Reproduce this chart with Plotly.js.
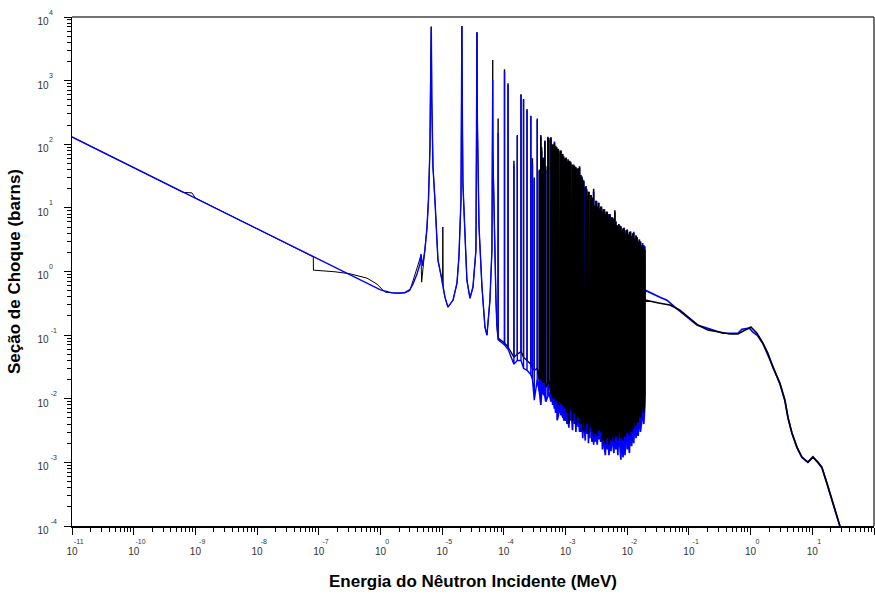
<!DOCTYPE html>
<html><head><meta charset="utf-8">
<script src="https://cdn.plot.ly/plotly-3.0.1.min.js"></script>
<style>html,body{margin:0;padding:0;background:#fff}#chart{width:875px;height:596px}</style>
</head><body><div id="chart"></div>
<script>
// ---- data (energies in eV, cross sections in barns) ----
const blueLowE = [1e-5, 1e-4, 1e-3, 1e-2, 0.0253, 0.1, 0.3, 1.0, 1.5, 2.0, 2.5, 3.0, 3.36, 3.91, 4.37, 4.53, 4.8, 5.26, 5.67, 6.0, 6.34, 6.5, 6.67, 6.8, 7.1, 7.64, 8.24, 8.55, 9.93, 11.1, 12.4, 15.0, 17.4, 18.7, 20.2, 20.6, 20.87, 21.2, 21.7, 23.4, 25.2, 28.2, 31.6, 35.3, 36.3, 36.68, 37.1, 39.6, 44.2, 49.4, 53.2, 59.5, 64.1, 65.5, 66.03, 66.6, 74.5, 77];
const blueLowXS = [130, 43, 14.3, 4.7, 3.0, 1.56, 0.92, 0.515, 0.466, 0.455, 0.47, 0.52, 0.634, 0.91, 1.31, 1.88, 1.22, 2.17, 4.8, 13.3, 87, 2100, 7030, 480, 44, 13.3, 4.0, 1.51, 0.73, 0.395, 0.275, 0.355, 0.658, 1.68, 13.3, 500, 7210, 400, 24.5, 4.0, 0.73, 0.38, 0.57, 2.17, 300, 5740, 300, 5.0, 0.57, 0.134, 0.1, 0.355, 2.17, 100, 1020, 60, 0.355, 0.15];

const blackLowE = [1e-5, 1e-4, 6.3e-4, 8.8e-4, 1e-3, 1e-2, 0.0253, 0.0815, 0.082, 0.183, 0.321, 0.604, 0.877, 1.18, 1.72, 2.49, 3.0, 4.53, 4.65, 5.26, 5.67, 6.0, 6.34, 6.5, 6.67, 6.8, 7.1, 7.64, 8.24, 8.55, 9.93, 10.15, 10.25, 10.4, 11.1, 12.4, 15.0, 17.4, 18.7, 20.2, 20.6, 20.87, 21.2, 21.7, 23.4, 25.2, 28.2, 31.6, 35.3, 36.3, 36.68, 37.1, 39.6, 44.2, 49.4, 53.2, 59.5, 64.1, 65.5, 66.03, 66.6, 74.5, 77];
const blackLowXS = [130, 43, 17.5, 17.2, 14.3, 4.7, 3.0, 1.70, 1.05, 0.99, 0.92, 0.787, 0.634, 0.474, 0.457, 0.46, 0.50, 1.78, 0.68, 2.17, 4.8, 13.3, 87, 2100, 7030, 480, 44, 13.3, 4.0, 1.51, 0.73, 0.6, 5.0, 0.55, 0.395, 0.275, 0.355, 0.658, 1.68, 13.3, 500, 7210, 400, 24.5, 4.0, 0.73, 0.38, 0.57, 2.17, 300, 5740, 300, 5.0, 0.57, 0.134, 0.1, 0.355, 2.17, 200, 2110, 80, 0.355, 0.15];

// resonance region: resonance energies (eV), peak and valley cross sections (barns)
const resE = [80.75, 102.5, 116.9, 145.7, 165.3, 189.7, 208.5, 237.4, 273.7, 291.0, 311.4, 347.8, 376.9, 397.6, 410.2, 434.0, 463.1, 478.4, 518.4, 535.4, 580.2, 594.8, 619.9, 628.6, 661.2, 665.3, 693.1, 708.4, 721.6, 730.2, 765.1, 782.1, 821.6, 851.0, 856.1, 866.6, 905.1, 925.2, 937.1, 958.0, 991.6,
  1023, 1054, 1098, 1131, 1168, 1211, 1245, 1298, 1355, 1405, 1443, 1473, 1522, 1598, 1638, 1688,
  1720, 1782, 1845, 1902, 1972, 2024, 2090, 2147, 2201, 2282, 2355, 2412, 2490, 2554, 2601, 2671, 2758, 2855, 2906, 3013, 3107, 3180, 3265, 3390, 3480, 3595,
  3710, 3830, 3960, 4120, 4260, 4420, 4570, 4730, 4890, 5060, 5270, 5450, 5640, 5850, 6080, 6300,
  6530, 6790, 7050, 7320, 7610, 7890, 8200, 8540, 8880, 9220, 9600, 10010, 10420, 10850, 11300, 11790, 12260, 12760, 13300, 13880, 14440, 15030, 15700, 16380, 17050, 17780, 18560, 19330];
const blackPeak = [255, 1505, 908, 55, 140, 610, 514, 357, 280, 60, 30, 255, 40, 131, 90, 60, 110, 45, 131, 125, 124, 70, 100, 50, 105, 40, 95, 60, 90, 45, 85, 55, 80, 76, 40, 65, 70, 45, 65, 40, 60,
  62, 50, 58, 52, 55, 51, 44, 48, 46, 46, 38, 44, 40, 42, 36, 45,
  36, 33, 30, 28, 26, 24, 20, 22, 19, 16, 18, 17, 14, 16, 15, 13, 14.5, 20, 13.5, 11, 13, 12.5, 10.5, 12, 11.5, 9.5,
  10.5, 10, 8.5, 9.5, 9.2, 8, 8.7, 8.5, 7.5, 8, 7.6, 6.8, 7.2, 6.8, 6.5, 9.2,
  6, 5.4, 5.2, 5.6, 5.3, 5.0, 4.4, 4.8, 4.7, 4.0, 4.5, 4.4, 3.8, 4.2, 4.1, 3.6, 4.0, 4.0, 3.3, 3.6, 3.4, 3.0, 3.1, 2.9, 2.5, 2.6, 2.4, 2.2];
const blackValley = [0.09, 0.075, 0.065, 0.045, 0.05, 0.055, 0.045, 0.04, 0.035, 0.03, 0.028, 0.03, 0.02, 0.025, 0.02, 0.018, 0.02, 0.015, 0.018, 0.02, 0.012, 0.016, 0.01, 0.014, 0.011, 0.013, 0.009, 0.012, 0.0095, 0.011, 0.008, 0.01, 0.009, 0.0085, 0.011, 0.009, 0.008, 0.01, 0.0075, 0.0095, 0.007,
  0.02, 0.006, 0.012, 0.004, 0.015, 0.007, 0.01, 0.0045, 0.018, 0.006, 0.009, 0.004, 0.013, 0.005, 0.008, 0.0042,
  0.012, 0.004, 0.009, 0.0032, 0.015, 0.005, 0.003, 0.01, 0.004, 0.012, 0.0028, 0.007, 0.0035, 0.011, 0.0045, 0.003, 0.009, 0.0025, 0.006, 0.0028, 0.01, 0.0035, 0.0026, 0.008, 0.0032, 0.006,
  0.003, 0.008, 0.0022, 0.006, 0.0025, 0.0019, 0.007, 0.0024, 0.0035, 0.0019, 0.006, 0.0022, 0.004, 0.0028, 0.0021, 0.007,
  0.0025, 0.005, 0.0022, 0.008, 0.003, 0.0024, 0.006, 0.0022, 0.004, 0.0025, 0.007, 0.0028, 0.0035, 0.0026, 0.006, 0.003, 0.005, 0.0034, 0.008, 0.0038, 0.006, 0.0042, 0.009, 0.005, 0.0066, 0.01, 0.006, 0.012];
const bluePeak = [150, 1400, 850, 48, 135, 600, 500, 340, 275, 50, 28, 240, 38, 140, 80, 62, 115, 40, 125, 118, 130, 62, 92, 55, 110, 36, 88, 66, 82, 50, 80, 58, 74, 80, 36, 68, 64, 48, 60, 44, 56,
  58, 52, 55, 54, 50, 53, 42, 46, 48, 43, 40, 41, 42, 39, 38, 43,
  38, 30, 31, 26, 27, 22, 21, 20, 20, 15, 17, 18, 13, 15, 16, 12, 13, 18, 14, 10, 12, 13, 10, 11, 12, 9,
  10, 10.5, 8, 9, 9.6, 7.5, 8, 8.8, 7, 7.6, 8, 6.3, 7, 7, 6, 8.5,
  6.2, 5, 5.3, 5.5, 4.9, 5.2, 4.1, 4.6, 4.9, 3.8, 4.3, 4.6, 3.6, 4.0, 4.3, 3.4, 3.8, 4.2, 3.1, 3.7, 3.5, 2.8, 3.2, 3.0, 2.6, 2.8, 2.6, 2.5];
const blueValley = [0.085, 0.07, 0.06, 0.035, 0.04, 0.04, 0.03, 0.028, 0.024, 0.02, 0.0095, 0.02, 0.013, 0.008, 0.013, 0.012, 0.011, 0.009, 0.011, 0.013, 0.009, 0.011, 0.008, 0.01, 0.007, 0.009, 0.006, 0.008, 0.0065, 0.0046, 0.0055, 0.007, 0.006, 0.0055, 0.007, 0.006, 0.005, 0.0065, 0.0045, 0.006, 0.0045,
  0.008, 0.004, 0.0065, 0.0035, 0.009, 0.0045, 0.006, 0.0032, 0.01, 0.004, 0.0055, 0.003, 0.0075, 0.0036, 0.005, 0.003,
  0.007, 0.003, 0.005, 0.0024, 0.008, 0.0035, 0.0022, 0.006, 0.0028, 0.007, 0.002, 0.0045, 0.0024, 0.0065, 0.003, 0.0021, 0.0055, 0.0019, 0.004, 0.0021, 0.006, 0.0024, 0.0019, 0.005, 0.0023, 0.004,
  0.0021, 0.005, 0.0016, 0.004, 0.0017, 0.0013, 0.0045, 0.0016, 0.0024, 0.0013, 0.004, 0.0015, 0.0028, 0.0019, 0.0014, 0.0045,
  0.0016, 0.0032, 0.0013, 0.005, 0.0018, 0.0011, 0.0038, 0.0012, 0.0025, 0.0013, 0.0045, 0.0016, 0.0022, 0.0014, 0.004, 0.0018, 0.0032, 0.002, 0.005, 0.0024, 0.004, 0.0026, 0.006, 0.003, 0.0042, 0.0065, 0.004, 0.008];

const blackHighE = [19400, 33900, 49200, 71400, 104000, 140000, 203000, 318000, 462000, 623000, 750000, 904000, 1010000, 1270000, 1580000, 1910000, 2300000, 2980000, 3600000, 4030000, 4670000, 5630000, 6780000, 8490000, 10200000, 12300000, 14300000, 17300000, 20800000, 25100000, 28000000, 30000000];
const blackHighXS = [0.355, 0.318, 0.297, 0.247, 0.185, 0.144, 0.12, 0.111, 0.104, 0.104, 0.116, 0.129, 0.134, 0.107, 0.075, 0.052, 0.031, 0.0176, 0.0095, 0.0051, 0.0029, 0.00173, 0.00121, 0.00101, 0.00121, 0.00101, 0.00084, 0.00047, 0.000255, 0.000137, 0.000103, 0.00008];
const blueHighE = [19400, 33900, 44000, 59300, 92700, 135000, 196000, 356000, 517000, 623000, 722000, 871000, 955000, 1090000, 1300000, 1580000, 1910000, 2300000, 2980000, 3600000, 4030000, 4670000, 5630000, 6780000, 8490000, 10200000, 12300000, 14300000, 17300000, 20800000, 25100000, 28000000, 30000000];
const blueHighXS = [0.51, 0.395, 0.355, 0.275, 0.192, 0.144, 0.129, 0.107, 0.107, 0.107, 0.124, 0.129, 0.129, 0.111, 0.098, 0.074, 0.05, 0.032, 0.0172, 0.0093, 0.005, 0.0029, 0.00172, 0.0012, 0.001, 0.00122, 0.001, 0.00082, 0.00046, 0.00025, 0.000135, 0.0001, 0.00008];

// axis ticks
const xTickVals = [1e-11, 1e-10, 1e-9, 1e-8, 1e-7, 1e-6, 1e-5, 1e-4, 1e-3, 1e-2, 1e-1, 1, 10, 100];
const xTickExp = ['-11', '-10', '-9', '-8', '-7', '0', '-5', '-4', '-3', '-2', '-1', '0', '1', '2'];
const yTickVals = [1e-4, 1e-3, 1e-2, 1e-1, 1, 10, 100, 1000, 10000];
const yTickExp = ['-4', '-3', '-2', '-1', '0', '1', '2', '3', '4'];

// ---- build ----
const EV_TO_MEV = 1e-6;
const SPLIT = 12; // resonances from this index on are drawn with black on top
function lowPart(lowE, lowXS) {
  return {x: lowE.map(e => e * EV_TO_MEV), y: lowXS.slice()};
}
function spikes(from, to, peaks, valleys, x, y) {
  for (let i = from; i < to; i++) {
    const m = resE[i] * EV_TO_MEV;
    x.push(m, m, m); y.push(valleys[i], peaks[i], valleys[i]);
  }
}
function sparsePart(lowE, lowXS, peaks, valleys) {
  const x = [lowE[lowE.length - 1] * EV_TO_MEV], y = [lowXS[lowXS.length - 1]];
  spikes(0, SPLIT, peaks, valleys, x, y);
  x.push(resE[SPLIT] * EV_TO_MEV); y.push(valleys[SPLIT]);
  return {x, y};
}
function densePart(peaks, valleys, highE, highXS) {
  const x = [resE[SPLIT - 1] * EV_TO_MEV], y = [valleys[SPLIT - 1]];
  spikes(SPLIT, resE.length, peaks, valleys, x, y);
  highE.forEach((e, i) => { x.push(e * EV_TO_MEV); y.push(highXS[i]); });
  return {x, y};
}

function minorVals(k0, k1) {
  const v = [];
  for (let k = k0; k <= k1; k++) for (let d = 2; d <= 9; d++) v.push(d * Math.pow(10, k));
  return v;
}
const NB = '&nbsp;';
// x labels: small exponent above and right of "10"
const xTickText = xTickExp.map(e => '<span style="font-size:7px">' + NB.repeat(7) + e + '</span><br><span style="font-size:10px">10</span>');
// y labels (right-aligned): exponent line placed just after "10"
const yTickText = yTickExp.map(e => '<span style="font-size:7px">' + e + NB.repeat(e.length === 1 ? 2 : 0) + '</span><br><span style="font-size:10px">10' + NB.repeat(3) + '</span>');

const FONT = 'Liberation Sans, Arial, sans-serif';
const titleFont = {family: FONT, size: 17, color: '#000'};

function line(d, color, width) {
  return {x: d.x, y: d.y, type: 'scatter', mode: 'lines', line: {color: color, width: width}, hoverinfo: 'skip', showlegend: false};
}
const traces = [
  line(lowPart(blackLowE, blackLowXS), '#000000', 1),
  line(lowPart(blueLowE, blueLowXS), '#0000ff', 1.4),
  line(sparsePart(blackLowE, blackLowXS, blackPeak, blackValley), '#000000', 1.4),
  line(sparsePart(blueLowE, blueLowXS, bluePeak, blueValley), '#0000ff', 1.4),
  line(densePart(bluePeak, blueValley, blueHighE, blueHighXS), '#0000ff', 1.7),
  line(densePart(blackPeak, blackValley, blackHighE, blackHighXS), '#000000', 1.6)
];

const layout = {
  width: 875, height: 596,
  margin: {l: 72, r: 1, t: 17, b: 70},
  paper_bgcolor: '#fff', plot_bgcolor: '#fff',
  showlegend: false,
  xaxis: {
    type: 'log', range: [-11, 2], autorange: false,
    tickmode: 'array', tickvals: xTickVals, ticktext: xTickText,
    ticks: 'outside', ticklen: 7, tickwidth: 1, tickcolor: '#000',
    minor: {tickmode: 'array', tickvals: minorVals(-11, 1), ticks: 'outside', ticklen: 4, tickwidth: 1, tickcolor: '#000', showgrid: false},
    showline: true, linecolor: '#000', linewidth: 1.5, mirror: false,
    showgrid: false, zeroline: false,
    tickfont: {family: FONT, size: 8, color: '#333'}, ticklabelstandoff: 0,
    title: {text: '<b>Energia do Nêutron Incidente (MeV)</b>', font: titleFont, standoff: 19}
  },
  yaxis: {
    type: 'log', range: [-4, 4], autorange: false,
    tickmode: 'array', tickvals: yTickVals, ticktext: yTickText,
    ticks: 'outside', ticklen: 7, tickwidth: 1, tickcolor: '#000',
    minor: {tickmode: 'array', tickvals: minorVals(-4, 3), ticks: 'outside', ticklen: 4, tickwidth: 1, tickcolor: '#000', showgrid: false},
    showline: true, linecolor: '#000', linewidth: 1.5, mirror: false,
    showgrid: false, zeroline: false,
    tickfont: {family: FONT, size: 8, color: '#333'}, ticklabelstandoff: 5,
    title: {text: '<b>Seção de Choque (barns)</b>', font: titleFont, standoff: 12}
  },
  shapes: [
    {type: 'line', xref: 'paper', yref: 'paper', x0: 0, x1: 1, y0: 1, y1: 1, line: {color: '#444', width: 1.5}},
    {type: 'line', xref: 'paper', yref: 'paper', x0: 1, x1: 1, y0: 0, y1: 1, line: {color: '#444', width: 1.5}}
  ]
};

Plotly.newPlot('chart', traces, layout, {displayModeBar: false, staticPlot: true});
</script>
</body></html>
